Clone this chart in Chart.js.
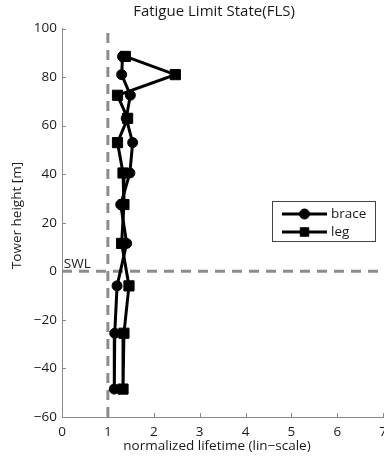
<!DOCTYPE html>
<html>
<head>
<meta charset="utf-8">
<script src="https://cdn.jsdelivr.net/npm/chart.js@4.4.0/dist/chart.umd.min.js"></script>
<style>
  html, body { margin: 0; padding: 0; overflow: hidden; background: #fff; }
</style>
</head>
<body>
<canvas id="fls" width="394" height="459"></canvas>
<script>
// tower heights [m] where lifetime is evaluated
const heights = [88.5, 81, 72.5, 63, 53, 40.5, 27.5, 11.5, -6, -25.5, -48.5];
// normalized lifetime per member type
const brace = [1.32, 1.30, 1.49, 1.40, 1.54, 1.48, 1.28, 1.41, 1.20, 1.15, 1.14];
const leg = [1.38, 2.47, 1.21, 1.43, 1.21, 1.33, 1.35, 1.30, 1.46, 1.35, 1.33];

const xTicks = [0, 1, 2, 3, 4, 5, 6, 7];
const yTicks = [-60, -40, -20, 0, 20, 40, 60, 80, 100];

const swlLevel = 0;
const designLife = 1;

const FONT = 'Open Sans';
const TEXT = '#1a1a1a';
const AXIS_GREY = '#8a8a8a';
const DASH_GREY = '#8c8c8c';

function points(xs) {
  return xs.map((x, i) => ({ x: x, y: heights[i] }));
}

const minus = v => String(v).replace('-', '\u2212');

// titles, MATLAB-style inward ticks, SWL text and the boxed legend
const extras = {
  id: 'extras',
  afterDraw(chart) {
    const ctx = chart.ctx;
    const xs = chart.scales.x, ys = chart.scales.y;
    const area = chart.chartArea;
    ctx.save();
    ctx.strokeStyle = AXIS_GREY;
    ctx.lineWidth = 1;
    ctx.beginPath();
    xs.ticks.forEach(t => {
      const px = Math.round(xs.getPixelForValue(t.value)) + 0.5;
      ctx.moveTo(px, area.bottom);
      ctx.lineTo(px, area.bottom - 4);
    });
    ys.ticks.forEach(t => {
      const py = Math.round(ys.getPixelForValue(t.value)) + 0.5;
      ctx.moveTo(area.left, py);
      ctx.lineTo(area.left + 4, py);
    });
    ctx.stroke();

    ctx.fillStyle = TEXT;
    ctx.textBaseline = 'alphabetic';
    ctx.textAlign = 'center';
    ctx.font = '15px "' + FONT + '"';
    ctx.fillText('Fatigue Limit State(FLS)', 214, 15.5);
    ctx.font = '13.5px "' + FONT + '"';
    ctx.fillText('normalized lifetime (lin\u2212scale)', 217, 450);
    ctx.save();
    ctx.translate(20.5, 215.5);
    ctx.rotate(-Math.PI / 2);
    ctx.fillText('Tower height [m]', 0, 0);
    ctx.restore();

    ctx.textAlign = 'left';
    ctx.fillText('SWL', xs.getPixelForValue(0.04), ys.getPixelForValue(swlLevel + 1.5));

    // legend
    const bx = 272.5, by = 201.5, bw = 103, bh = 40;
    ctx.fillStyle = '#fff';
    ctx.fillRect(bx, by, bw, bh);
    ctx.strokeStyle = '#444';
    ctx.lineWidth = 1;
    ctx.strokeRect(bx, by, bw, bh);
    const rows = [
      { label: 'brace', y: 214, ds: chart.data.datasets[0] },
      { label: 'leg', y: 232, ds: chart.data.datasets[1] }
    ];
    rows.forEach(r => {
      ctx.strokeStyle = '#000';
      ctx.lineWidth = 3;
      ctx.beginPath();
      ctx.moveTo(282, r.y);
      ctx.lineTo(327, r.y);
      ctx.stroke();
      ctx.fillStyle = '#000';
      ctx.lineWidth = 1;
      Chart.helpers.drawPoint(ctx, {
        pointStyle: r.ds.pointStyle,
        radius: r.ds.pointStyle === 'rect' ? 6 : 5,
        borderWidth: 1,
        rotation: 0
      }, 304.5, r.y);
      ctx.fillStyle = TEXT;
      ctx.textBaseline = 'middle';
      ctx.fillText(r.label, 331, r.y);
    });
    ctx.restore();
  }
};

const memberStyle = {
  showLine: true,
  borderColor: '#000',
  backgroundColor: '#000',
  borderWidth: 3,
  pointBorderWidth: 1,
  pointBorderColor: '#000',
  pointBackgroundColor: '#000'
};

new Chart(document.getElementById('fls'), {
  type: 'scatter',
  data: {
    datasets: [
      Object.assign({ label: 'brace', data: points(brace), pointStyle: 'circle', pointRadius: 5 }, memberStyle),
      Object.assign({ label: 'leg', data: points(leg), pointStyle: 'rect', pointRadius: 7.2 }, memberStyle),
      {
        label: 'design life',
        data: [{ x: designLife, y: yTicks[0] }, { x: designLife, y: yTicks[yTicks.length - 1] }],
        showLine: true, pointRadius: 0, borderColor: DASH_GREY, borderWidth: 3, borderDash: [10, 7]
      },
      {
        label: 'SWL',
        data: [{ x: xTicks[0], y: swlLevel }, { x: xTicks[xTicks.length - 1], y: swlLevel }],
        showLine: true, pointRadius: 0, borderColor: DASH_GREY, borderWidth: 3, borderDash: [10, 7]
      }
    ]
  },
  options: {
    responsive: false,
    animation: false,
    events: [],
    layout: { padding: { top: 28.5 } },
    plugins: {
      legend: { display: false },
      tooltip: { enabled: false },
      title: { display: false }
    },
    scales: {
      x: {
        type: 'linear',
        min: xTicks[0],
        max: xTicks[xTicks.length - 1],
        afterBuildTicks: s => { s.ticks = xTicks.map(v => ({ value: v })); },
        afterFit: s => { s.height = 42; },
        grid: { display: false, drawTicks: false },
        border: { display: true, color: AXIS_GREY, width: 1 },
        ticks: { color: TEXT, padding: 7, maxRotation: 0, font: { family: FONT, size: 13.5 }, callback: minus }
      },
      y: {
        type: 'linear',
        min: yTicks[0],
        max: yTicks[yTicks.length - 1],
        afterBuildTicks: s => { s.ticks = yTicks.map(v => ({ value: v })); },
        afterFit: s => { s.width = 62; },
        grid: { display: false, drawTicks: false },
        border: { display: true, color: AXIS_GREY, width: 1 },
        ticks: { color: TEXT, padding: 5, font: { family: FONT, size: 13.5 }, callback: minus }
      }
    }
  },
  plugins: [extras]
});
</script>
</body>
</html>
